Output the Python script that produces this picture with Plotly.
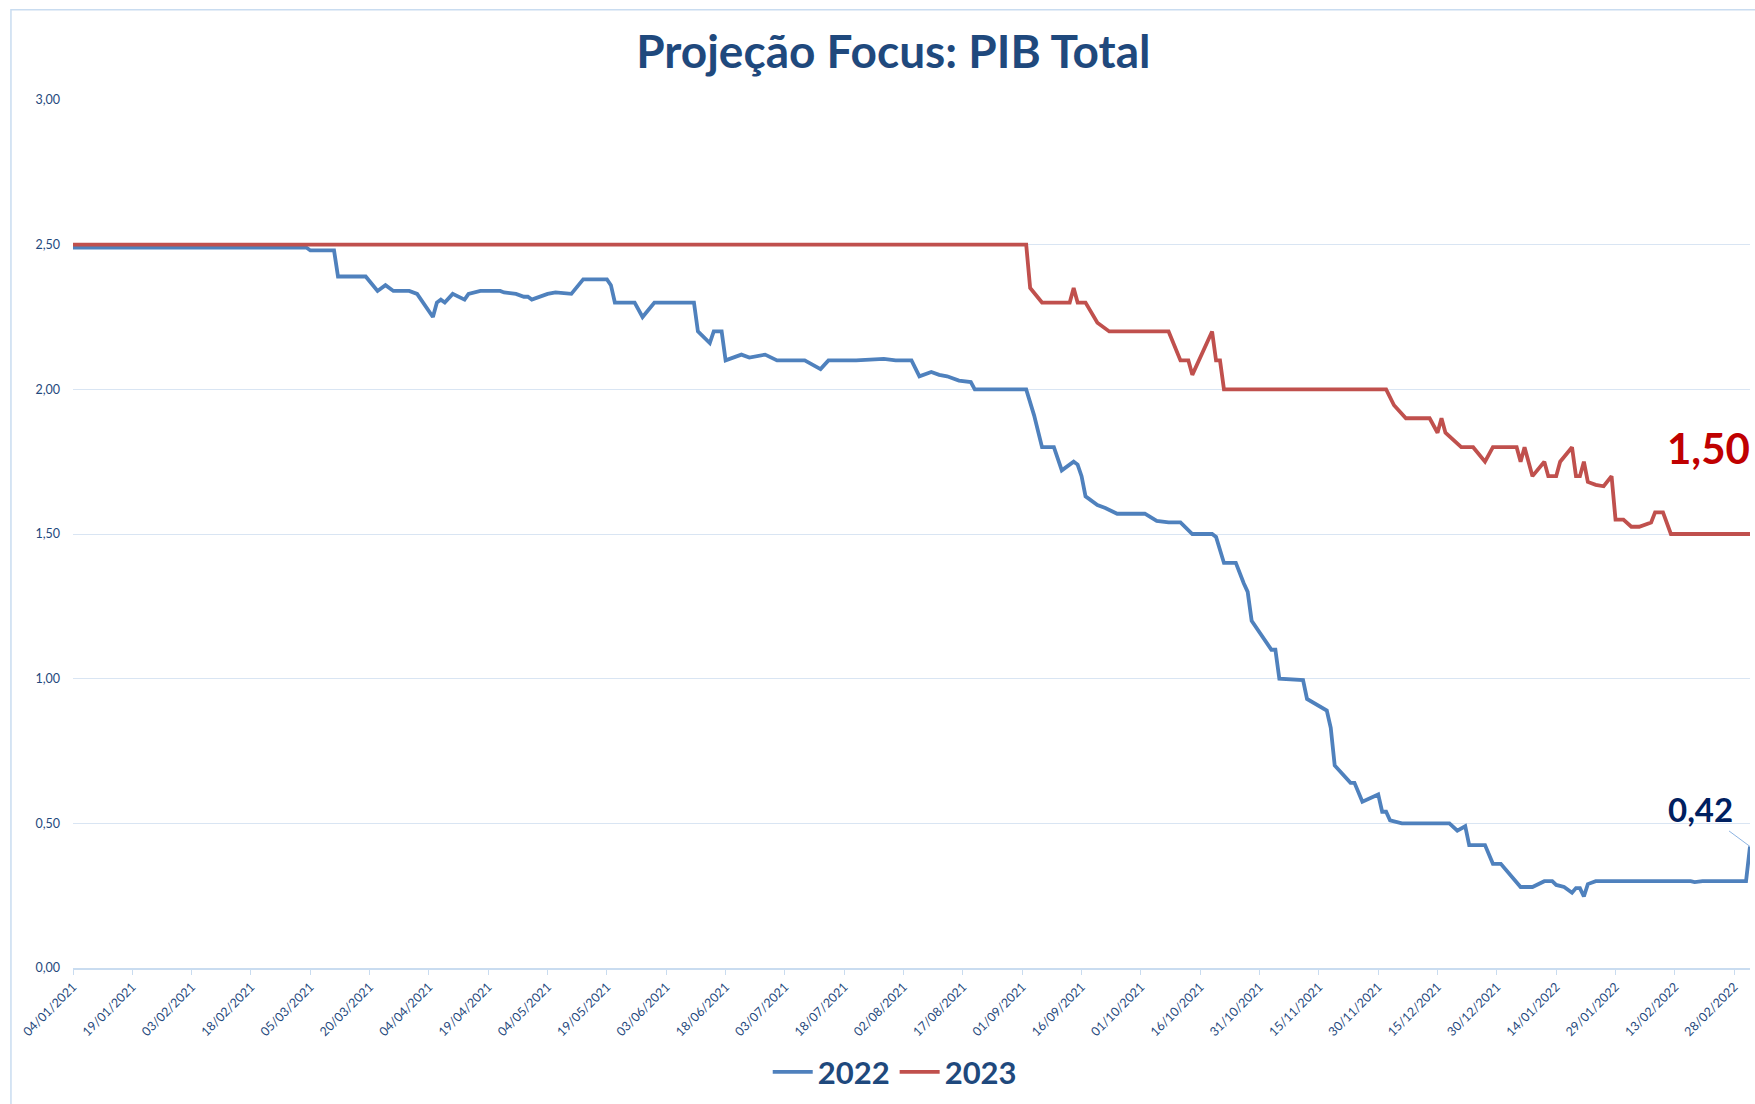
import plotly.graph_objects as go

# ---- data ----
dates_2022 = ["2021-01-04","2021-03-04","2021-03-05","2021-03-11","2021-03-12","2021-03-19","2021-03-22","2021-03-24","2021-03-26","2021-03-30",
              "2021-04-01","2021-04-05","2021-04-06","2021-04-07","2021-04-08","2021-04-10","2021-04-13","2021-04-14","2021-04-17","2021-04-22",
              "2021-04-23","2021-04-26","2021-04-28","2021-04-29","2021-04-30","2021-05-04","2021-05-06","2021-05-10","2021-05-13","2021-05-19",
              "2021-05-20","2021-05-21","2021-05-25","2021-05-26","2021-05-28","2021-05-31","2021-06-04","2021-06-10","2021-06-11","2021-06-14",
              "2021-06-15","2021-06-17","2021-06-18","2021-06-22","2021-06-24","2021-06-28","2021-07-01","2021-07-08","2021-07-12","2021-07-14",
              "2021-07-21","2021-07-28","2021-07-31","2021-08-04","2021-08-06","2021-08-09","2021-08-11","2021-08-13","2021-08-16","2021-08-19",
              "2021-08-20","2021-09-02","2021-09-04","2021-09-06","2021-09-09","2021-09-11","2021-09-14","2021-09-15","2021-09-16","2021-09-17",
              "2021-09-20","2021-09-22","2021-09-25","2021-10-02","2021-10-05","2021-10-08","2021-10-11","2021-10-14","2021-10-19","2021-10-20",
              "2021-10-22","2021-10-25","2021-10-27","2021-10-28","2021-10-29","2021-11-02","2021-11-03","2021-11-04","2021-11-05","2021-11-11",
              "2021-11-12","2021-11-17","2021-11-18","2021-11-19","2021-11-23","2021-11-24","2021-11-26","2021-11-30","2021-12-01","2021-12-02",
              "2021-12-03","2021-12-06","2021-12-18","2021-12-20","2021-12-22","2021-12-23","2021-12-27","2021-12-29","2021-12-31","2022-01-05",
              "2022-01-08","2022-01-11","2022-01-13","2022-01-14","2022-01-16","2022-01-18","2022-01-19","2022-01-20","2022-01-21","2022-01-22",
              "2022-01-24","2022-02-17","2022-02-18","2022-02-20","2022-03-03","2022-03-04"]
pib_2022 = [2.49, 2.49, 2.48, 2.48, 2.39, 2.39, 2.34, 2.36, 2.34, 2.34,
            2.33, 2.25, 2.30, 2.31, 2.30, 2.33, 2.31, 2.33, 2.34, 2.34,
            2.335, 2.33, 2.32, 2.32, 2.31, 2.33, 2.335, 2.33, 2.38, 2.38,
            2.36, 2.30, 2.30, 2.30, 2.25, 2.30, 2.30, 2.30, 2.20, 2.16,
            2.20, 2.20, 2.10, 2.12, 2.11, 2.12, 2.10, 2.10, 2.07, 2.10,
            2.10, 2.105, 2.10, 2.10, 2.045, 2.06, 2.05, 2.045, 2.03, 2.025,
            2.00, 2.00, 1.91, 1.80, 1.80, 1.72, 1.75, 1.74, 1.70, 1.63,
            1.60, 1.59, 1.57, 1.57, 1.545, 1.54, 1.54, 1.50, 1.50, 1.49,
            1.40, 1.40, 1.33, 1.30, 1.20, 1.12, 1.10, 1.10, 1.00, 0.995,
            0.93, 0.89, 0.83, 0.70, 0.64, 0.64, 0.575, 0.60, 0.54, 0.54,
            0.51, 0.50, 0.50, 0.475, 0.49, 0.425, 0.425, 0.36, 0.36, 0.28,
            0.28, 0.30, 0.30, 0.287, 0.28, 0.26, 0.276, 0.276, 0.247, 0.29,
            0.30, 0.30, 0.297, 0.30, 0.30, 0.42]

dates_2023 = ["2021-01-04","2021-09-02","2021-09-03","2021-09-06","2021-09-13","2021-09-14","2021-09-15","2021-09-17","2021-09-20","2021-09-21",
              "2021-09-23","2021-10-08","2021-10-11","2021-10-13","2021-10-14","2021-10-19","2021-10-20","2021-10-21","2021-10-22","2021-12-02",
              "2021-12-04","2021-12-07","2021-12-13","2021-12-15","2021-12-16","2021-12-17","2021-12-21","2021-12-24","2021-12-27","2021-12-29",
              "2022-01-04","2022-01-05","2022-01-06","2022-01-08","2022-01-11","2022-01-12","2022-01-14","2022-01-15","2022-01-18","2022-01-19",
              "2022-01-20","2022-01-21","2022-01-22","2022-01-24","2022-01-26","2022-01-28","2022-01-29","2022-01-31","2022-02-02","2022-02-04",
              "2022-02-07","2022-02-08","2022-02-10","2022-02-12","2022-03-04"]
pib_2023 = [2.50, 2.50, 2.35, 2.30, 2.30, 2.35, 2.30, 2.30, 2.23, 2.22,
            2.20, 2.20, 2.10, 2.10, 2.05, 2.20, 2.10, 2.10, 2.00, 2.00,
            1.945, 1.90, 1.90, 1.85, 1.90, 1.85, 1.80, 1.80, 1.75, 1.80,
            1.80, 1.75, 1.80, 1.70, 1.75, 1.70, 1.70, 1.75, 1.80, 1.70,
            1.70, 1.75, 1.68, 1.67, 1.665, 1.70, 1.55, 1.55, 1.525, 1.525,
            1.54, 1.575, 1.575, 1.50, 1.50]

series_names = ["2022", "2023"]
series_colors = ["#4F81BD", "#C0504D"]
title_text = "Projeção Focus: PIB Total"
x_start, x_end = "2021-01-04", "2022-03-04"

FONT = "Lato"
NAVY = "#1F497D"

fig = go.Figure()
for name, xs, ys, col in zip(series_names, [dates_2022, dates_2023], [pib_2022, pib_2023], series_colors):
    fig.add_trace(go.Scatter(x=xs, y=ys, mode="lines", name="<b>" + name + "</b>",
                             line=dict(color=col, width=3.8)))

# end labels
fig.add_annotation(x=dates_2023[-1], y=pib_2023[-1], text="<b>1,50</b>", showarrow=False,
                   xanchor="right", yanchor="middle", yshift=86, xshift=2,
                   font=dict(family=FONT, size=42, color="#C00000"))
fig.add_annotation(x=dates_2022[-1], y=pib_2022[-1], text="<b>0,42</b>", showarrow=True,
                   arrowhead=0, arrowwidth=1, arrowcolor="#8DB4E2", ax=-50, ay=-37,
                   font=dict(family=FONT, size=33, color="#002060"))

# outer chart border
fig.add_shape(type="rect", xref="paper", yref="paper", x0=-0.037, x1=1.01, y0=-0.2, y1=1.104,
              line=dict(color="#C9DCF0", width=1.5), fillcolor="rgba(0,0,0,0)", layer="below")

fig.update_layout(
    width=1755, height=1104,
    margin=dict(l=73, r=5, t=100, b=136),
    paper_bgcolor="white", plot_bgcolor="white",
    separators=",.",
    title=dict(text="<b>" + title_text + "</b>", x=0.509, xanchor="center", y=0.953, yanchor="middle",
               font=dict(family=FONT, size=46, color=NAVY)),
    legend=dict(orientation="h", x=0.49, xanchor="center", y=-0.12, yanchor="middle",
                font=dict(family=FONT, size=31, color=NAVY), itemwidth=40,
                bgcolor="rgba(0,0,0,0)"),
    showlegend=True,
)

fig.update_xaxes(type="date", range=[x_start, x_end], tick0=x_start, dtick=15 * 86400000,
                 tickformat="%d/%m/%Y", tickangle=-45, ticks="outside", ticklen=5,
                 tickcolor="#C9DCF0", showline=True, linecolor="#C9DCF0", linewidth=1.5,
                 showgrid=False, zeroline=False,
                 tickfont=dict(family=FONT, size=12.5, color=NAVY))
fig.update_yaxes(range=[0, 3], dtick=0.5, tickformat=".2f", showgrid=True, gridcolor="#D9E5F3",
                 gridwidth=1, zeroline=False, showline=False, ticks="", ticklabelstandoff=12,
                 tickfont=dict(family=FONT, size=12.5, color=NAVY))

fig.write_html("out.html", config={"displayModeBar": False},
               post_script="document.body.style.margin='0';document.body.style.overflow='hidden';")
